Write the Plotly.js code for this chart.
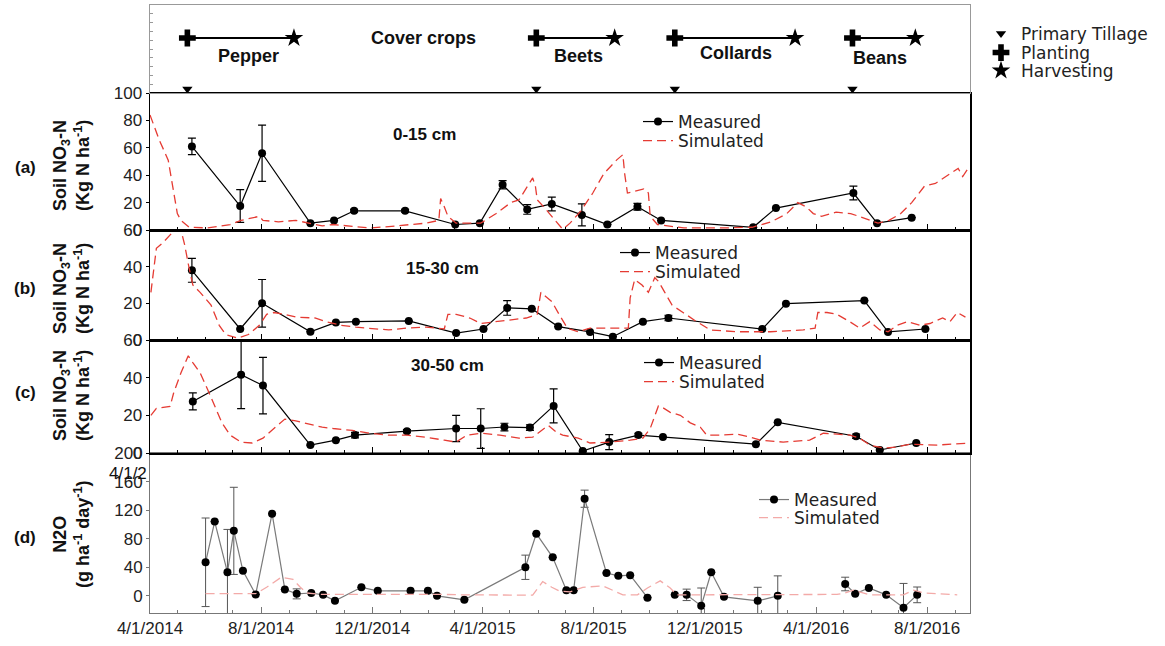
<!DOCTYPE html>
<html>
<head>
<meta charset="utf-8">
<script src="https://cdn.plot.ly/plotly-3.0.1.min.js"></script>
<style>
html,body{margin:0;padding:0;background:#fff;}
#chart{width:1165px;height:646px;}
</style>
</head>
<body>
<div id="chart"></div>
<script>
// ---------- DATA (days since 2014-04-01) ----------
const START = '2014-04-01';
const END = '2016-09-17';
const tickLabelsX = ['4/1/2014','8/1/2014','12/1/2014','4/1/2015','8/1/2015','12/1/2015','4/1/2016','8/1/2016'];

// Crop schedule
const crops = ['Pepper','Beets','Collards','Beans'];
const plantDays = [41,424,576,771];
const harvestDays = [158,510,708,840];
const tillageDays = [41,424,576,771];
const cropLabelDays = [108,470,643,801];
const coverCropDay = 300;

// (a) 0-15 cm
const aDays = [46,99,123,176,202,224,280,335,362,387,414,441,474,502,535,561,662,687,772,798,836];
const aMeas = [61,17.5,56,5,7,14,14,4,5,33,15,19,11,4,17,7,2,16,27,5,9];
const aErr  = [6,12,20.5,0,0,1,1,0,0,3,3.5,5,8,0,2.5,0,0,0,5,0,0];
const aSimDays = [0,10,20,24,30,34,43,63,88,100,120,124,141,160,176,189,201,222,241,262,282,303,317,319,323,327,336,363,380,396,405,420,423,425,432,445,453,461,473,486,498,512,519,521,524,530,542,547,549,557,586,628,661,682,699,711,720,728,737,753,769,778,790,799,811,824,836,850,862,874,887,892,897];
const aSim = [84,66,51,36,12,7,2,1.5,4,7,10,7,6,7,5,3,4,2.5,1.5,2.5,3.6,5,7,23,17,10,5,5,12,20,22,38,32,22,17,7,0.5,5,14,27,41,51,55,41,27,28,30,27,10,4,1.5,1.5,2,6,12,20,17,12,10,13,12,10,7,5,7,12,20,32,34,39,45,39,44];

// (b) 15-30 cm
const bDays = [46,99,123,176,204,226,284,336,366,392,419,448,483,508,541,569,672,698,784,810,851];
const bMeas = [38,6,20,4.5,9.6,10,10.4,3.8,6,17.5,17,7.3,4.4,1.8,10,12,6,19.8,21.5,4.4,6];
const bErr  = [6.5,0,13,0,0,0,0,0,0,4,0,0,0,0,0,1.5,0,0,0,0,0];
const bSimDays = [1,7,14,22,29,34,38,43,47,55,67,76,83,96,108,120,128,136,148,160,172,181,193,210,226,241,262,282,303,323,327,336,351,363,380,396,413,425,429,435,441,449,458,470,483,505,525,527,532,540,547,554,558,565,573,585,600,615,644,681,717,730,733,743,754,768,779,790,801,810,820,831,845,856,870,878,886,895];
const bSim = [26,50,53,57,61,60,52,39,30,26,19,8,3,1,3,8,14,15,14,12.5,12,12,10,8,7,6.5,5.5,6.5,7,6,14,14,12,9,10,11,12,14,26,23.5,21,14,6.5,4.5,6.5,6.5,6.5,23,33,30,26,34,32,26,19,15,10,5.5,4.5,4.5,5.5,6.5,15,15,14,10,6.5,10,5.5,4.5,8,10,8,9,12,10,15,12.5];

// (c) 30-50 cm
const cDays = [47,100,124,176,204,225,282,336,363,389,417,443,475,504,536,563,665,689,775,801,841];
const cMeas = [27.4,41.6,35.8,4.2,6.8,9.5,11.6,13,13,13.8,13.5,25,1,5.8,9.5,8.5,4.7,16.3,8.9,1.6,5.3];
const cErr  = [4.5,18,15,0,0,1.5,0.8,7,10.5,2,1.5,9,0,4,1,0,0,0,1.2,0,0];
const cSimDays = [1,7,22,26,34,42,47,55,63,71,79,88,100,112,124,136,148,160,177,189,201,222,241,262,282,303,323,336,348,363,384,405,420,432,437,446,453,470,483,505,527,541,549,558,563,571,582,593,604,611,626,644,659,670,695,724,739,754,768,779,790,805,820,834,864,900];
const cSim = [20,23.7,24.7,32,42.6,51.6,48,42.6,34,25,16,9.5,5.8,5.3,7.9,13,18,17,15,13.7,13,12,10.5,9.5,9.5,8.4,6.8,5.8,9.5,10.5,9.5,7.9,8.4,13,14.7,11,9.5,7.9,5.3,5.8,6.8,7.9,13,25,24,21.6,20,16,13.7,9.5,9.5,10,8.4,6.8,5.8,6.8,10.5,10,9.5,7.9,4.2,2.6,3.2,4.7,4.2,5.3];

// (d) N2O
const dDays = [61,71,85,92,102,116,134,148,161,177,190,203,232,250,286,305,315,345,412,424,442,457,465,477,501,514,527,546,576,589,605,616,630,667,689,763,774,789,808,827,842];
const dMeas = [47,104,33,91,35,2,115,9,2.8,4,1.4,-7,12,7,7,7,0,-5.5,40,87,54,8,8,136,32,28,29,-2.5,1.4,1.4,-14,33,-1.4,-7,0,16.6,2.8,11,1.4,-16.6,1.4];
const dErr  = [62,0,60,61,0,0,0,0,7,0,0,0,0,0,0,0,0,0,17,0,0,0,0,12,0,0,0,0,0,8,25,0,0,19,28,9.5,0,0,0,34,11];
const dGapBefore = [28,35];
const dSimDays = [61,116,128,144,157,165,172,189,323,344,420,431,441,449,461,475,497,508,519,535,546,560,571,578,754,763,772,790,827,838,849,886];
const dSim = [3,3,12,26,23,12,4,2,2,1.4,1,20,12,7,5.5,12,14,8,1.4,1.4,11,21,11,1.4,2,4,8,1.4,1.4,8,4,1.4];

// ---------- helpers ----------
const t0 = Date.UTC(2014,3,1);
const toDate = d => new Date(t0 + Math.round(d)*86400000).toISOString().slice(0,10);
const dates = arr => arr.map(toDate);

const FONT = 'Arial, "Liberation Sans", sans-serif';
const LFONT = '"DejaVu Sans", Arial, sans-serif';
const RED = '#e53b33';
const PINK = '#f3aaa8';
const dashStyle = '9px,5px';

function measTrace(days, vals, errs, xa, ya, leg, lineColor, errColor){
  return {
    x: dates(days), y: vals, xaxis: xa, yaxis: ya, legend: leg,
    type:'scatter', mode:'lines+markers', name:'Measured',
    line:{color:lineColor, width:1.2},
    marker:{color:'black', size:8, symbol:'circle'},
    error_y:{type:'data', array:errs, visible:true, color:errColor, thickness:1.2, width:4},
    connectgaps:false
  };
}
function simTrace(days, vals, xa, ya, leg, color){
  return {
    x: dates(days), y: vals, xaxis: xa, yaxis: ya, legend: leg,
    type:'scatter', mode:'lines', name:'Simulated',
    line:{color:color, width:1.3, dash:dashStyle}
  };
}

// (d) measured with gaps
const dX = [], dY = [], dE = [];
dDays.forEach((d,i)=>{
  if (dGapBefore.includes(i)) { dX.push(null); dY.push(null); dE.push(null); }
  dX.push(d); dY.push(dMeas[i]); dE.push(dErr[i]);
});

const traces = [
  measTrace(aDays, aMeas, aErr, 'x4','y4','legend','black','black'),
  simTrace(aSimDays, aSim, 'x4','y4','legend2', RED),
  measTrace(bDays, bMeas, bErr, 'x3','y3','legend3','black','black'),
  simTrace(bSimDays, bSim, 'x3','y3','legend4', RED),
  measTrace(cDays, cMeas, cErr, 'x2','y2','legend5','black','black'),
  simTrace(cSimDays, cSim, 'x2','y2','legend6', RED),
  {
    x: dX.map(d => d===null ? null : toDate(d)), y: dY, xaxis:'x', yaxis:'y', legend:'legend7',
    type:'scatter', mode:'lines+markers', name:'Measured',
    line:{color:'#7a7a7a', width:1.2}, marker:{color:'black', size:8},
    error_y:{type:'data', array:dE, visible:true, color:'#555', thickness:1, width:4},
    connectgaps:false
  },
  simTrace(dSimDays, dSim, 'x','y','legend8', PINK),
];

// top schedule panel
const periodX = [], periodY = [];
plantDays.forEach((p,i)=>{ periodX.push(toDate(p), toDate(harvestDays[i]), null); periodY.push(0.625,0.625,null); });
traces.push({x:periodX, y:periodY, xaxis:'x5', yaxis:'y5', type:'scatter', mode:'lines',
  line:{color:'black', width:2}, showlegend:false, hoverinfo:'skip'});
traces.push({x:dates(tillageDays), y:tillageDays.map(()=>0.045), xaxis:'x5', yaxis:'y5', type:'scatter', mode:'markers',
  name:'Primary Tillage', legend:'legend9', marker:{symbol:'triangle-down', size:9, color:'black'}, cliponaxis:false});
traces.push({x:dates(plantDays), y:plantDays.map(()=>0.625), xaxis:'x5', yaxis:'y5', type:'scatter', mode:'markers',
  name:'Planting', legend:'legend10', marker:{symbol:'cross', size:14, color:'black'}});
traces.push({x:dates(harvestDays), y:harvestDays.map(()=>0.625), xaxis:'x5', yaxis:'y5', type:'scatter', mode:'markers',
  name:'Harvesting', legend:'legend11', marker:{symbol:'star', size:14, color:'black'}});

// ---------- LAYOUT ----------
const H = 608; // plot height in px
const dom = (top, bottom) => [(613-bottom)/H, (613-top)/H];

function xax(anchor, labels, lineColor, lw){
  return {
    type:'date', range:[START, END], anchor:anchor,
    showgrid:false, zeroline:false, showline:true, mirror:true,
    linecolor:lineColor, linewidth:lw,
    ticks:'inside', ticklen:6, tickcolor:lineColor,
    dtick:'M4', tick0:START, tickformat:'%-m/%-d/%Y',
    minor:{dtick:'M1', ticks:'inside', ticklen:3, tickcolor:lineColor},
    showticklabels:labels,
    tickfont:{family:FONT, size:17, color:'#222'}
  };
}
function yax(domain, range, tickvals, anchor, lineColor, lw){
  return {
    domain:domain, range:range, anchor:anchor,
    tickvals:tickvals, ticktext:tickvals.map(String),
    showgrid:false, zeroline:false, showline:true, mirror:true,
    linecolor:lineColor, linewidth:lw,
    ticks:'outside', ticklen:3, tickcolor:lineColor,
    tickfont:{family:FONT, size:17, color:'#222'}
  };
}

// one legend per entry, placed by text start x and row centre y (px)
function legendAt(textX, ycenter){
  return {x:(textX-41-150)/820, y:(613-ycenter)/H, xanchor:'left', yanchor:'middle',
    bgcolor:'rgba(0,0,0,0)', borderwidth:0, tracegroupgap:0,
    font:{family:LFONT, size:17, color:'#222'}};
}

const titleFont = {family:FONT, size:18, color:'#111'};
const ann = [];
function yTitle(text, ycenter){
  ann.push({xref:'paper', yref:'paper', x:(71-150)/820, y:(613-ycenter)/H, text:text, textangle:-90,
    showarrow:false, xanchor:'center', yanchor:'middle', font:titleFont, align:'center'});
}
yTitle('<b>Soil NO<sub>3</sub>-N</b><br><b>(Kg N ha<sup>-1</sup>)</b>', 166);
yTitle('<b>Soil NO<sub>3</sub>-N</b><br><b>(Kg N ha<sup>-1</sup>)</b>', 289);
yTitle('<b>Soil NO<sub>3</sub>-N</b><br><b>(Kg N ha<sup>-1</sup>)</b>', 396);
yTitle('<b>N2O</b><br><b>(g ha<sup>-1</sup> day<sup>-1</sup>)</b>', 535);

function paperText(text, xpx, ypx, size, xanchor){
  ann.push({xref:'paper', yref:'paper', x:(xpx-150)/820, y:(613-ypx)/H, text:text, showarrow:false,
    xanchor:xanchor||'center', yanchor:'middle', font:{family:FONT, size:size||17, color:'#111'}});
}
paperText('<b>(a)</b>', 25, 168);
paperText('<b>(b)</b>', 25, 288);
paperText('<b>(c)</b>', 25, 393);
paperText('<b>(d)</b>', 25, 537);
paperText('<b>0-15 cm</b>', 424, 135);
paperText('<b>15-30 cm</b>', 442, 268);
paperText('<b>30-50 cm</b>', 447, 365);
paperText('4/1/2', 149, 473, 17, 'right');

crops.forEach((c,i)=>{
  const yl = [0.42,0.42,0.455,0.40][i];
  ann.push({xref:'x5', yref:'y5', x:toDate(cropLabelDays[i]), y:yl, text:'<b>'+c+'</b>', showarrow:false,
    xanchor:'center', yanchor:'middle', font:{family:FONT, size:18, color:'#111'}});
});
ann.push({xref:'x5', yref:'y5', x:toDate(coverCropDay), y:0.625, text:'<b>Cover crops</b>', showarrow:false,
  xanchor:'center', yanchor:'middle', font:{family:FONT, size:18, color:'#111'}});

const layout = {
  width:1165, height:646,
  margin:{l:150, r:195, t:5, b:33},
  paper_bgcolor:'white', plot_bgcolor:'white',
  font:{family:FONT, size:17, color:'#222'},
  xaxis: xax('y', true, '#777', 1),
  xaxis2: Object.assign(xax('y2', false, 'black', 1.5), {matches:'x'}),
  xaxis3: Object.assign(xax('y3', false, 'black', 1.5), {matches:'x'}),
  xaxis4: Object.assign(xax('y4', false, 'black', 1.5), {matches:'x'}),
  xaxis5: Object.assign(xax('y5', false, '#999', 1), {matches:'x', ticks:'', minor:{ticks:''}}),
  yaxis:  yax(dom(453,613), [-24,200], [0,40,80,120,160,200], 'x', '#777', 1),
  yaxis2: yax(dom(340,453), [0,60], [0,20,40,60], 'x2', 'black', 1.5),
  yaxis3: yax(dom(230,340), [0,60], [0,20,40,60], 'x3', 'black', 1.5),
  yaxis4: yax(dom(93,230), [0,100], [0,20,40,60,80,100], 'x4', 'black', 1.5),
  yaxis5: Object.assign(yax(dom(5,93), [0,1], [], 'x5', '#999', 1),
          {tickvals:null, ticktext:null, dtick:0.1, tick0:0, ticks:'inside', ticklen:3, showticklabels:false}),
  legend:   legendAt(679, 122),
  legend2:  legendAt(679, 141),
  legend3:  legendAt(656, 253),
  legend4:  legendAt(656, 272),
  legend5:  legendAt(680, 363),
  legend6:  legendAt(680, 382),
  legend7:  legendAt(795, 500),
  legend8:  legendAt(795, 518),
  legend9:  legendAt(1022, 34),
  legend10: legendAt(1022, 53),
  legend11: legendAt(1022, 71),
  showlegend:true,
  annotations: ann
};

Plotly.newPlot('chart', traces, layout, {displayModeBar:false, staticPlot:true});
</script>
</body>
</html>
